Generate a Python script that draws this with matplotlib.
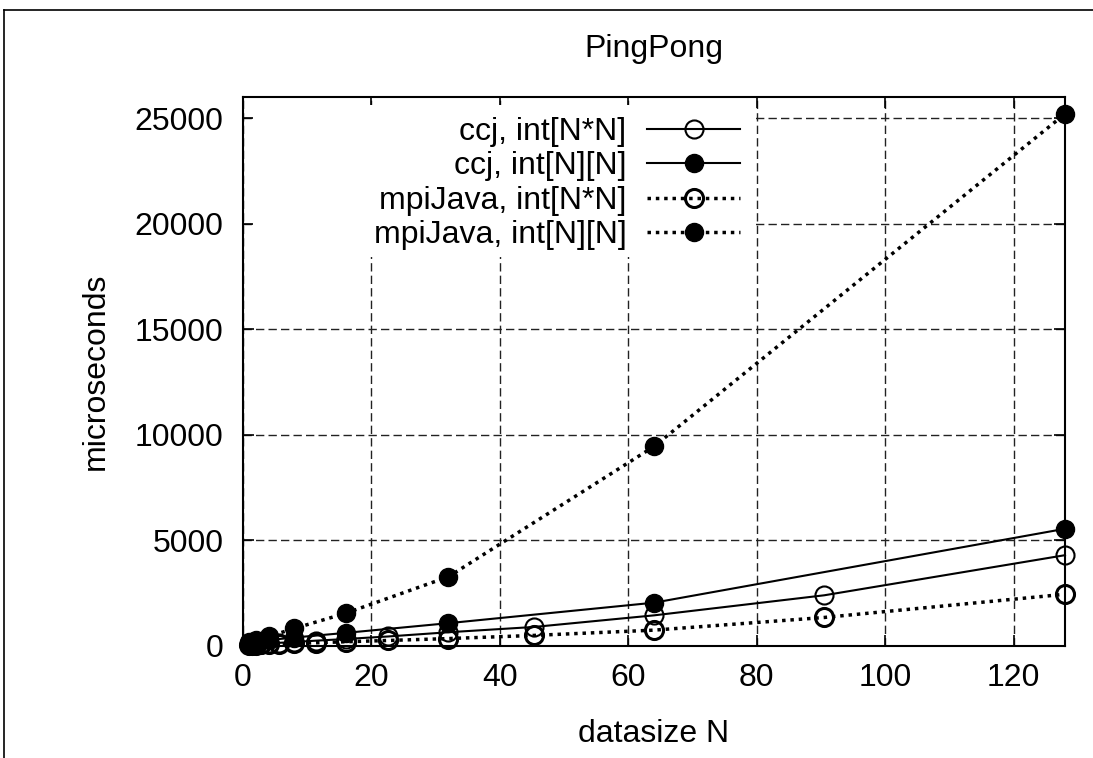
import matplotlib
matplotlib.use("Agg")
import matplotlib.pyplot as plt
from matplotlib.lines import Line2D
from matplotlib.patches import Rectangle

plt.rcParams["font.family"] = ["Liberation Sans", "DejaVu Sans"]

# datasize N for the flat int[N*N] runs and for the int[N][N] runs
n_flat = [1, 1.41, 2, 2.83, 4, 5.66, 8, 11.3, 16, 22.6, 32, 45.3, 64, 90.5, 128]
n_2d = [1, 2, 4, 8, 16, 32, 64, 128]

# microseconds
ccj_flat = [60, 70, 80, 100, 120, 150, 190, 250, 330, 450, 650, 900, 1450, 2400, 4300]
ccj_2d = [150, 200, 280, 400, 620, 1080, 2050, 5550]
mpi_flat = [40, 50, 60, 70, 80, 100, 120, 150, 200, 260, 350, 500, 750, 1350, 2450]
mpi_2d = [200, 280, 450, 830, 1550, 3280, 9450, 25200]

labels = ["ccj, int[N*N]", "ccj, int[N][N]", "mpiJava, int[N*N]", "mpiJava, int[N][N]"]
xticks = [0, 20, 40, 60, 80, 100, 120]
yticks = [0, 5000, 10000, 15000, 20000, 25000]

fs = 23
fig = plt.figure(figsize=(10.93, 7.58), dpi=100)
ax = fig.add_axes([0.2223, 0.1478, 0.7521, 0.7242])

dots = (0, (1, 1.4))
ax.plot(n_flat, ccj_flat, "-", color="black", lw=1.5, marker="o", ms=13,
        mfc="none", mec="black", mew=1.5, label=labels[0], clip_on=False, zorder=3)
ax.plot(n_2d, ccj_2d, "-", color="black", lw=1.5, marker="o", ms=13,
        mfc="black", mec="black", label=labels[1], clip_on=False, zorder=3)
ax.plot(n_flat, mpi_flat, color="black", lw=2.5, ls=dots, dash_capstyle="butt",
        marker="o", ms=13, mfc="none", mec="black", mew=2.2, label=labels[2],
        clip_on=False, zorder=3)
ax.plot(n_2d, mpi_2d, color="black", lw=2.5, ls=dots, dash_capstyle="butt",
        marker="o", ms=13, mfc="black", mec="black", label=labels[3],
        clip_on=False, zorder=3)

ax.set_xlim(0, 128)
ax.set_ylim(0, 26000)
ax.set_xticks(xticks)
ax.set_yticks(yticks)
ax.grid(True, color="#222222", lw=1.0, ls=(0, (6, 3)))
ax.set_axisbelow(True)
ax.tick_params(direction="in", length=8, width=1.2, labelsize=fs,
               top=True, right=True)
ax.tick_params(axis="y", pad=14)
ax.tick_params(axis="x", pad=12)
for s in ax.spines.values():
    s.set_linewidth(1.5)

ax.set_title("PingPong", fontsize=fs, pad=29)
ax.set_xlabel("datasize N", fontsize=fs, labelpad=19)
ax.set_ylabel("microseconds", fontsize=fs, labelpad=17)

# white key area hides the grid behind the legend, like the gnuplot key
ax.add_patch(Rectangle((0.012, 0.736), 0.607, 0.249, transform=ax.transAxes,
                       facecolor="white", edgecolor="none", zorder=1))

leg = ax.legend(loc="upper right", bbox_to_anchor=(0.62, 0.987), markerfirst=False,
                fontsize=fs, frameon=True, fancybox=False, handlelength=2.9,
                handletextpad=0.65, labelspacing=0.14, borderpad=0.2,
                borderaxespad=0.2)
leg.get_frame().set_edgecolor("none")
leg.get_frame().set_facecolor("white")
leg.get_frame().set_alpha(1)

# outer border of the original page
fig.add_artist(Line2D([0.004, 0.004], [0, 0.987], color="black", lw=1.2))
fig.add_artist(Line2D([0.004, 1.0], [0.987, 0.987], color="black", lw=1.2))

fig.savefig("out.png", dpi=100)
